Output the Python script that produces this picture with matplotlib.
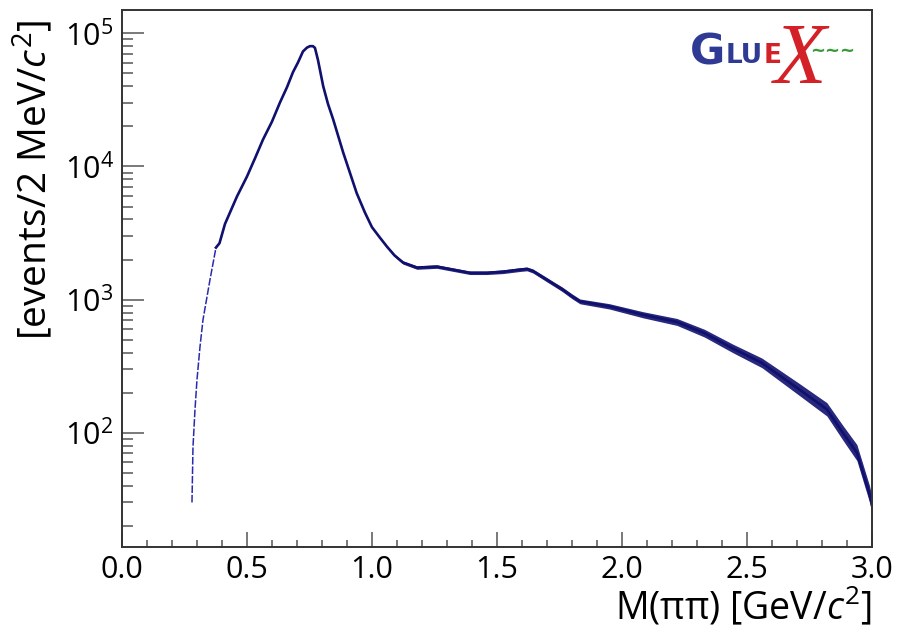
import numpy as np
import matplotlib
matplotlib.use("Agg")
import matplotlib.pyplot as plt
from matplotlib.ticker import LogLocator, MultipleLocator, FixedLocator, NullFormatter

# pi pi invariant mass spectrum (2 MeV bins)
mass = [0.280, 0.284, 0.292, 0.300, 0.312, 0.324, 0.352, 0.376, 0.390, 0.412,
        0.432, 0.460, 0.500, 0.532, 0.564, 0.600, 0.632, 0.660, 0.684, 0.704,
        0.724, 0.740, 0.752, 0.764, 0.772, 0.784, 0.805, 0.824, 0.845, 0.885,
        0.939, 0.972, 1.000, 1.030, 1.060, 1.090, 1.124, 1.180, 1.260, 1.324,
        1.392, 1.460, 1.524, 1.592, 1.620, 1.644, 1.700, 1.730, 1.760, 1.800,
        1.832, 1.950, 2.084, 2.220, 2.330, 2.444, 2.560, 2.712, 2.820, 2.884,
        2.940, 2.990, 3.000]
counts = [30, 78, 149, 250, 442, 705, 1410, 2460, 2650, 3700,
          4510, 5950, 8400, 11500, 15900, 21700, 30200, 39300, 51000, 60300,
          73000, 78000, 80000, 80000, 77600, 63000, 40000, 29500, 22500, 12700,
          6300, 4500, 3500, 2950, 2500, 2150, 1900, 1740, 1770, 1680,
          1590, 1590, 1620, 1680, 1700, 1640, 1410, 1300, 1200, 1060,
          970, 890, 770, 680, 560, 430, 335, 210, 150, 100,
          71, 35, 29]
# half width of the statistical scatter band, in decades
scatter = [0, 0, 0, 0, 0, 0, 0, 0, 0, 0,
           0, 0, 0, 0, 0, 0, 0, 0, 0, 0,
           0, 0, 0, 0, 0, 0, 0, 0, 0, 0,
           0.003, 0.004, 0.005, 0.006, 0.008, 0.010, 0.012, 0.013, 0.013, 0.013,
           0.013, 0.013, 0.014, 0.014, 0.014, 0.015, 0.016, 0.016, 0.017, 0.018,
           0.018, 0.020, 0.023, 0.026, 0.029, 0.032, 0.036, 0.045, 0.050, 0.055,
           0.060, 0.062, 0.062]

x_ticks = [0.0, 0.5, 1.0, 1.5, 2.0, 2.5, 3.0]
y_ticks = [1e2, 1e3, 1e4, 1e5]
y_labels = ["10$^{2}$", "10$^{3}$", "10$^{4}$", "10$^{5}$"]

plt.rcParams['font.family'] = ['Open Sans', 'DejaVu Sans']
plt.rcParams['mathtext.fontset'] = 'custom'
plt.rcParams['mathtext.rm'] = 'Open Sans'
plt.rcParams['mathtext.it'] = 'Open Sans:italic'

fig = plt.figure(figsize=(8.97, 6.36), dpi=100)
ax = fig.add_axes([0.136, 0.140, 0.836, 0.844])

m = np.array(mass)
c = np.array(counts, dtype=float)
s = np.array(scatter)

line_col = '#10106e'
low = m <= 0.376
ax.plot(m[low], c[low], color='#2a2ab0', lw=1.1, ls=(0, (5, 1.2)))
hi = m >= 0.376
ax.plot(m[hi], c[hi], color=line_col, lw=1.9, solid_joinstyle='round')
ax.fill_between(m, c * 10 ** (-s), c * 10 ** s, color=line_col, lw=0, alpha=0.9)

ax.set_yscale('log')
ax.set_xlim(0, 3.0)
ax.set_ylim(13.9, 1.49e5)

ax.xaxis.set_major_locator(FixedLocator(x_ticks))
ax.set_xticklabels([f"{t:.1f}" for t in x_ticks])
ax.xaxis.set_minor_locator(MultipleLocator(0.1))
ax.yaxis.set_major_locator(FixedLocator(y_ticks))
ax.set_yticklabels(y_labels)
ax.yaxis.set_minor_locator(LogLocator(base=10, subs=np.arange(2, 10)))
ax.yaxis.set_minor_formatter(NullFormatter())

ax.tick_params(axis='x', which='major', direction='in', length=11, width=1.1,
               color='#555555', labelsize=22, pad=6)
ax.tick_params(axis='x', which='minor', direction='in', length=5, width=1.1,
               color='#555555')
ax.tick_params(axis='y', which='major', direction='in', length=16, width=1.1,
               color='#555555', labelsize=22, pad=6)
ax.tick_params(axis='y', which='minor', direction='in', length=8, width=1.1,
               color='#555555')

for sp in ax.spines.values():
    sp.set_linewidth(1.4)
    sp.set_color('#333333')

ax.set_xlabel("M(ππ) [GeV/$c^{2}$]", fontsize=27, loc='right', labelpad=0)
ax.set_ylabel("[events/2 MeV/$c^{2}$]", fontsize=28, loc='top')
ax.yaxis.set_label_coords(-0.088, 0.983)

# GlueX logo
ax.text(0.757, 0.898, "G", transform=ax.transAxes, fontsize=31, fontweight='bold',
        color='#2e3a93', family='DejaVu Sans', ha='left', va='baseline')
ax.text(0.805, 0.901, "LU", transform=ax.transAxes, fontsize=19, fontweight='bold',
        color='#2e3a93', family='DejaVu Sans', ha='left', va='baseline')
ax.text(0.856, 0.901, "E", transform=ax.transAxes, fontsize=19, fontweight='bold',
        color='#d42027', family='DejaVu Sans', ha='left', va='baseline')
ax.text(0.905, 0.865, "X", transform=ax.transAxes, fontsize=62, style='italic',
        color='#d42027', family='Liberation Serif', ha='center', va='baseline')
ax.text(0.918, 0.924, "~~~", transform=ax.transAxes, fontsize=13, fontweight='bold',
        color='#3a9a3a', family='DejaVu Sans', ha='left', va='center')

fig.savefig("out.png", dpi=100)
